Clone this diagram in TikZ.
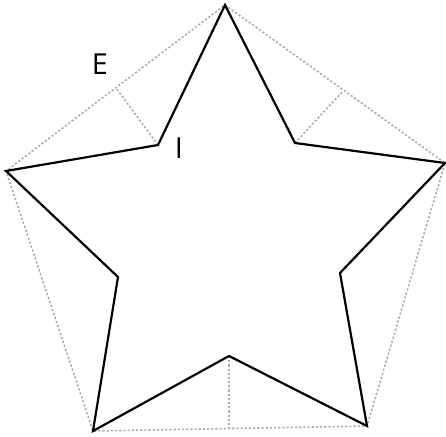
\documentclass[tikz,border=0pt]{standalone}
\usepackage{fontspec}
\setmainfont{Open Sans}
\usetikzlibrary{calc}

\begin{document}
\begin{tikzpicture}[
    x=1bp, y=-1bp,
    edge/.style={draw, line width=2.2pt, line join=miter},
    guide/.style={draw=gray!65, line width=1.6pt, dash pattern=on 2.2pt off 2pt},
    lbl/.style={font=\fontsize{29}{29}\selectfont, inner sep=0pt}
  ]
  \useasboundingbox (0,0) rectangle (446,437);

  % Outer points of the star
  \coordinate (top) at (225,5);
  \coordinate (rt)  at (445,163);
  \coordinate (br)  at (367,426);
  \coordinate (bl)  at (93,431);
  \coordinate (lt)  at (6,171);

  % Inner points
  \coordinate (itr) at (295,143);
  \coordinate (ir)  at (340,273);
  \coordinate (ib)  at (229,356);
  \coordinate (il)  at (118,277);
  \coordinate (itl) at (158,145);

  % Feet on the pentagon edges
  \coordinate (ftl) at (116,88);
  \coordinate (ftr) at (343,91);
  \coordinate (fb)  at (229,429);

  % Pentagon and helper lines
  \draw[guide] (top) -- (rt) -- (br) -- (bl) -- (lt) -- cycle;
  \draw[guide] (itl) -- (ftl);
  \draw[guide] (itr) -- (ftr);
  \draw[guide] (ib) -- (fb);

  % Star
  \draw[edge] (top) -- (itr) -- (rt) -- (ir) -- (br) -- (ib) -- (bl)
              -- (il) -- (lt) -- (itl) -- cycle;

  % Labels
  \node[lbl] (labE) at (100,64) {E};
  \node[lbl] (labI) at (179,148) {I};
\end{tikzpicture}
\end{document}
